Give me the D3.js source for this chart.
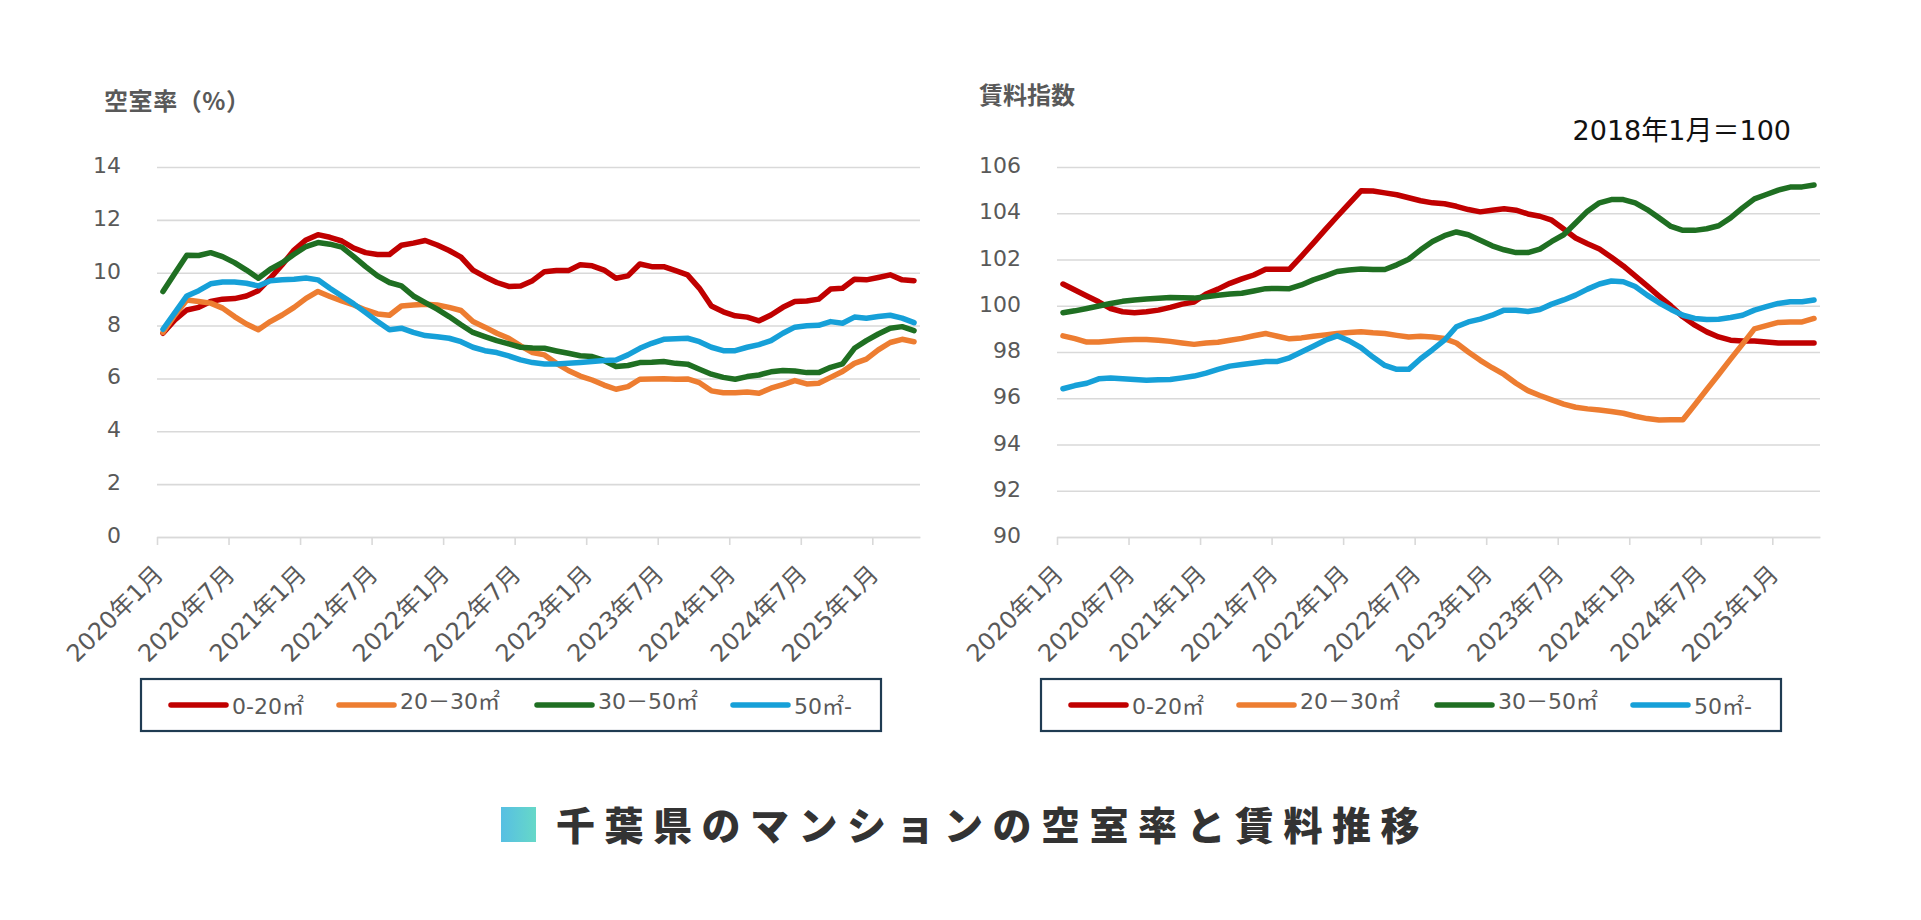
<!DOCTYPE html>
<html>
<head>
<meta charset="utf-8">
<script src="https://cdn.jsdelivr.net/npm/d3@7"></script>
<style>
  body { margin: 0; background: #fff; }
  svg { display: block; }
</style>
</head>
<body>
<div class="chart-area"></div>
<script>
// tick labels on the x axis (every 6 months)
const tickLabels = ["2020年1月", "2020年7月", "2021年1月", "2021年7月", "2022年1月", "2022年7月",
    "2023年1月", "2023年7月", "2024年1月", "2024年7月", "2025年1月"];
const seriesNames = ["0-20㎡", "20－30㎡", "30－50㎡", "50㎡-"];
const seriesColors = ["#C00000", "#ED7D31", "#1F6F22", "#16A0D8"];

// 空室率 (%)  2020/1 - 2025/4
const vacancy0to20 = [7.71, 8.21, 8.59, 8.69, 8.91, 9.0, 9.02, 9.12, 9.32, 9.79, 10.3, 10.86, 11.24, 11.44, 11.34, 11.2,
    10.93, 10.76, 10.69, 10.69, 11.04, 11.12, 11.22, 11.05, 10.84, 10.59, 10.1, 9.85, 9.63, 9.48, 9.5, 9.7,
    10.04, 10.08, 10.08, 10.3, 10.26, 10.1, 9.79, 9.88, 10.33, 10.23, 10.23, 10.08, 9.92, 9.41, 8.74, 8.52,
    8.37, 8.32, 8.18, 8.4, 8.69, 8.91, 8.93, 9.0, 9.38, 9.41, 9.75, 9.73, 9.82, 9.92, 9.73, 9.7];
const vacancy20to30 = [7.74, 8.4, 8.97, 8.91, 8.85, 8.66, 8.34, 8.06, 7.84, 8.15, 8.4, 8.69, 9.03, 9.29, 9.1, 8.93,
    8.78, 8.59, 8.44, 8.39, 8.74, 8.78, 8.81, 8.78, 8.69, 8.57, 8.15, 7.94, 7.71, 7.52, 7.23, 6.98,
    6.89, 6.57, 6.3, 6.09, 5.94, 5.75, 5.59, 5.69, 5.97, 5.98, 5.99, 5.97, 5.98, 5.84, 5.53, 5.46,
    5.46, 5.49, 5.44, 5.63, 5.77, 5.92, 5.79, 5.82, 6.04, 6.26, 6.57, 6.73, 7.08, 7.36, 7.48, 7.39];
const vacancy30to50 = [9.29, 9.98, 10.66, 10.65, 10.76, 10.61, 10.38, 10.1, 9.79, 10.13, 10.38, 10.7, 10.99, 11.14, 11.08, 10.97,
    10.61, 10.23, 9.88, 9.63, 9.5, 9.12, 8.87, 8.62, 8.34, 8.03, 7.74, 7.58, 7.43, 7.31, 7.18, 7.15,
    7.14, 7.04, 6.95, 6.86, 6.83, 6.68, 6.45, 6.49, 6.6, 6.61, 6.64, 6.57, 6.54, 6.35, 6.16, 6.04,
    5.97, 6.07, 6.13, 6.25, 6.3, 6.28, 6.22, 6.22, 6.42, 6.55, 7.14, 7.43, 7.68, 7.9, 7.96, 7.81];
const vacancy50up = [7.86, 8.49, 9.12, 9.32, 9.58, 9.65, 9.65, 9.6, 9.5, 9.7, 9.73, 9.75, 9.8, 9.73, 9.41, 9.12,
    8.82, 8.49, 8.15, 7.84, 7.9, 7.74, 7.62, 7.58, 7.52, 7.39, 7.18, 7.05, 6.98, 6.85, 6.7, 6.6,
    6.55, 6.55, 6.57, 6.6, 6.64, 6.68, 6.7, 6.89, 7.14, 7.33, 7.48, 7.5, 7.52, 7.39, 7.18, 7.05,
    7.05, 7.18, 7.28, 7.43, 7.71, 7.94, 7.99, 8.01, 8.15, 8.09, 8.32, 8.28, 8.34, 8.39, 8.28, 8.11];

// 賃料指数 (2018年1月=100)
const rent0to20 = [100.94, 100.68, 100.42, 100.17, 99.88, 99.74, 99.7, 99.74, 99.81, 99.93, 100.07, 100.16, 100.51, 100.72, 100.97, 101.16,
    101.33, 101.58, 101.58, 101.58, 102.14, 102.71, 103.29, 103.86, 104.42, 104.97, 104.96, 104.88, 104.8, 104.67, 104.54, 104.45,
    104.41, 104.3, 104.16, 104.06, 104.13, 104.19, 104.13, 103.97, 103.87, 103.7, 103.32, 102.93, 102.68, 102.45, 102.1, 101.72,
    101.29, 100.86, 100.42, 99.99, 99.52, 99.16, 98.87, 98.65, 98.51, 98.48, 98.48, 98.43, 98.39, 98.39, 98.39, 98.39];
const rent20to30 = [98.7, 98.58, 98.43, 98.43, 98.48, 98.52, 98.54, 98.54, 98.51, 98.46, 98.39, 98.33, 98.39, 98.42, 98.51, 98.59,
    98.7, 98.8, 98.68, 98.57, 98.61, 98.68, 98.74, 98.8, 98.84, 98.88, 98.83, 98.8, 98.72, 98.65, 98.68, 98.65,
    98.58, 98.39, 98.0, 97.64, 97.32, 97.03, 96.65, 96.33, 96.12, 95.93, 95.75, 95.61, 95.54, 95.49, 95.43, 95.35,
    95.22, 95.12, 95.06, 95.07, 95.07, 95.72, 96.38, 97.03, 97.69, 98.34, 99.0, 99.14, 99.28, 99.3, 99.3, 99.45];
const rent30to50 = [99.7, 99.78, 99.88, 99.99, 100.1, 100.19, 100.25, 100.29, 100.32, 100.36, 100.35, 100.33, 100.39, 100.45, 100.51, 100.54,
    100.64, 100.74, 100.75, 100.74, 100.9, 101.12, 101.29, 101.48, 101.55, 101.59, 101.57, 101.57, 101.77, 102.01, 102.42, 102.78,
    103.03, 103.19, 103.07, 102.83, 102.59, 102.42, 102.3, 102.3, 102.45, 102.78, 103.07, 103.58, 104.09, 104.45, 104.59, 104.59,
    104.45, 104.16, 103.8, 103.43, 103.26, 103.26, 103.33, 103.46, 103.8, 104.23, 104.62, 104.81, 105.0, 105.13, 105.14, 105.22];
const rent50up = [96.41, 96.55, 96.65, 96.84, 96.88, 96.84, 96.81, 96.78, 96.8, 96.81, 96.88, 96.96, 97.09, 97.25, 97.39, 97.46,
    97.52, 97.59, 97.59, 97.75, 98.0, 98.25, 98.51, 98.7, 98.48, 98.19, 97.78, 97.42, 97.25, 97.25, 97.71, 98.1,
    98.51, 99.09, 99.3, 99.42, 99.59, 99.81, 99.81, 99.75, 99.84, 100.07, 100.25, 100.46, 100.72, 100.94, 101.07, 101.04,
    100.83, 100.46, 100.13, 99.84, 99.59, 99.45, 99.41, 99.42, 99.49, 99.59, 99.81, 99.96, 100.1, 100.17, 100.17, 100.25];

const vacancyTicks = [0, 2, 4, 6, 8, 10, 12, 14];
const rentTicks = [90, 92, 94, 96, 98, 100, 102, 104, 106];

const W = 1921, H = 920;
const gray = "#595959";
const fontMain = "'DejaVu Sans', 'Noto Sans CJK JP', sans-serif";
const fontJP = "'Noto Sans CJK JP', sans-serif";

const svg = d3.select(".chart-area").append("svg")
    .attr("width", W)
    .attr("height", H);

const defs = svg.append("defs");
const grad = defs.append("linearGradient").attr("id", "titleGrad");
grad.append("stop").attr("offset", "0%").attr("stop-color", "#57BFE3");
grad.append("stop").attr("offset", "100%").attr("stop-color", "#66D8C8");

function drawChart(opt) {
    const g = svg.append("g");
    const n = opt.series[0].length;
    const x = d3.scaleLinear().domain([0, n]).range([opt.left, opt.right]);
    const y = d3.scaleLinear().domain(opt.domain).range([537, 167]);

    // gridlines + y labels
    const yAxis = d3.axisLeft(y)
        .tickValues(opt.ticks)
        .tickSize(-(opt.right - opt.left))
        .tickPadding(36);
    const ya = g.append("g")
        .attr("transform", "translate(" + opt.left + ",0)")
        .call(yAxis);
    ya.select(".domain").remove();
    ya.selectAll(".tick line").attr("stroke", "#d9d9d9").attr("stroke-width", 1.6);
    ya.selectAll(".tick text")
        .attr("fill", gray)
        .attr("font-size", 22)
        .attr("font-family", fontMain)
        .attr("dy", "0.25em");

    // x axis with ticks between categories
    const xAxis = d3.axisBottom(x)
        .tickValues(d3.range(0, n, 6))
        .tickSize(8)
        .tickSizeOuter(0)
        .tickFormat("");
    const xa = g.append("g")
        .attr("transform", "translate(0,537)")
        .call(xAxis);
    xa.select(".domain").attr("stroke", "#d9d9d9").attr("stroke-width", 1.6);
    xa.selectAll(".tick line").attr("stroke", "#d9d9d9").attr("stroke-width", 1.6);

    g.selectAll(".xlab")
        .data(tickLabels)
        .enter()
        .append("text")
        .attr("class", "xlab")
        .attr("transform", (d, i) => "translate(" + (x(i * 6 + 0.5) - 4) + ",570) rotate(-45)")
        .attr("text-anchor", "end")
        .attr("dominant-baseline", "central")
        .attr("fill", gray)
        .attr("font-size", 24)
        .attr("font-family", fontMain)
        .text(d => d);

    // lines
    const line = d3.line()
        .x((d, i) => x(i + 0.5))
        .y(d => y(d));
    g.selectAll(".series")
        .data(opt.series)
        .enter()
        .append("path")
        .attr("class", "series")
        .attr("d", d => line(d))
        .attr("fill", "none")
        .attr("stroke", (d, i) => seriesColors[i])
        .attr("stroke-width", 5.5)
        .attr("stroke-linejoin", "round")
        .attr("stroke-linecap", "round");

    // title
    const t = g.append("text")
        .attr("x", opt.titleX)
        .attr("y", opt.titleY)
        .attr("fill", gray)
        .attr("font-size", 24)
        .attr("font-weight", "bold")
        .attr("font-family", fontJP)
        .text(opt.title);
    if (opt.titleLen) t.attr("textLength", opt.titleLen).attr("lengthAdjust", "spacing");

    // legend
    const lg = g.append("g").attr("transform", "translate(" + opt.legendX + ",679)");
    lg.append("rect")
        .attr("width", 740)
        .attr("height", 52)
        .attr("fill", "#fff")
        .attr("stroke", "#1F3B52")
        .attr("stroke-width", 2.2);
    const itemX = [30, 198, 396, 592];
    const textDy = [35, 30, 30, 35];
    const item = lg.selectAll(".item")
        .data(seriesNames)
        .enter()
        .append("g")
        .attr("transform", (d, i) => "translate(" + itemX[i] + ",0)");
    item.append("line")
        .attr("x1", 0).attr("x2", 55)
        .attr("y1", 26).attr("y2", 26)
        .attr("stroke", (d, i) => seriesColors[i])
        .attr("stroke-width", 5.5)
        .attr("stroke-linecap", "round");
    item.append("text")
        .attr("x", 61)
        .attr("y", (d, i) => textDy[i])
        .attr("fill", gray)
        .attr("font-size", 22)
        .attr("font-family", fontMain)
        .text(d => d);
    return g;
}

drawChart({
    left: 157, right: 920,
    domain: [0, 14], ticks: vacancyTicks,
    series: [vacancy0to20, vacancy20to30, vacancy30to50, vacancy50up],
    title: "空室率（%）", titleX: 104, titleY: 110, titleLen: 146,
    legendX: 141
});

const right = drawChart({
    left: 1057, right: 1820,
    domain: [90, 106], ticks: rentTicks,
    series: [rent0to20, rent20to30, rent30to50, rent50up],
    title: "賃料指数", titleX: 979, titleY: 104,
    legendX: 1041
});

right.append("text")
    .attr("x", 1791)
    .attr("y", 140)
    .attr("text-anchor", "end")
    .attr("fill", "#111")
    .attr("font-size", 27)
    .attr("font-family", fontMain)
    .text("2018年1月＝100");

// bottom caption
svg.append("rect")
    .attr("x", 501).attr("y", 807)
    .attr("width", 35).attr("height", 35)
    .attr("fill", "url(#titleGrad)");
svg.append("text")
    .attr("x", 556)
    .attr("y", 840)
    .attr("fill", "#333")
    .attr("font-size", 39)
    .attr("font-weight", 900)
    .attr("letter-spacing", 9.5)
    .attr("font-family", fontJP)
    .text("千葉県のマンションの空室率と賃料推移");
</script>
</body>
</html>
